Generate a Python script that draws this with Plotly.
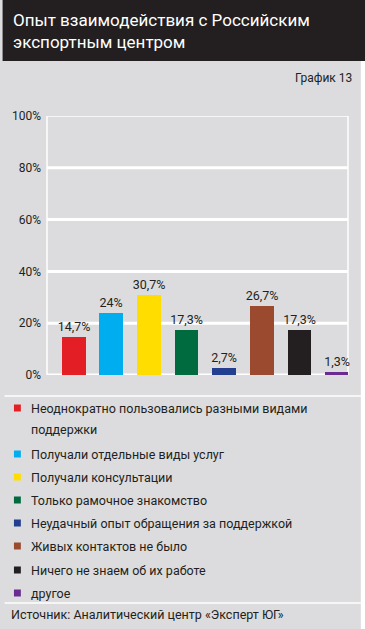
import plotly.graph_objects as go

categories = [
    "Неоднократно пользовались разными видами<br>поддержки",
    "Получали отдельные виды услуг",
    "Получали консультации",
    "Только рамочное знакомство",
    "Неудачный опыт обращения за поддержкой",
    "Живых контактов не было",
    "Ничего не знаем об их работе",
    "другое",
]
values = [14.7, 24, 30.7, 17.3, 2.7, 26.7, 17.3, 1.3]
value_labels = ["14,7%", "24%", "30,7%", "17,3%", "2,7%", "26,7%", "17,3%", "1,3%"]
colors = ["#e31e24", "#00aeef", "#ffdd00", "#006b3f", "#233f8f", "#9b4a2f", "#231f20", "#6a2c91"]
y_ticks = [0, 20, 40, 60, 80, 100]
y_tick_labels = ["0%", "20%", "40%", "60%", "80%", "100%"]
legend_y = [408, 454, 477, 500, 523, 546, 570, 593]

FONT = "Roboto"
DARK = "#231f20"
BG = "#dcdcde"
W, H = 365, 629
L, R, T, B = 43, 17, 116, 254

fig = go.Figure()
fig.add_trace(go.Bar(
    x=list(range(len(values))), y=values,
    marker=dict(color=colors, line=dict(width=0)),
    width=0.63,
    text=value_labels, textposition="outside", cliponaxis=False, constraintext="none",
    textfont=dict(family=FONT, size=12.5, color=DARK),
    showlegend=False, hoverinfo="skip",
))

def px_to_paper_x(px):
    return (px - L) / (W - L - R)

def px_to_paper_y(py):
    return (H - B - py) / (H - T - B)

shapes = []
shapes.append(dict(type="rect", xref="paper", yref="paper",
                   x0=px_to_paper_x(-2), x1=px_to_paper_x(367), y0=px_to_paper_y(61), y1=px_to_paper_y(-2),
                   fillcolor=DARK, line=dict(width=0), layer="below"))
for v in y_ticks:
    if v == 100:
        continue
    shapes.append(dict(type="line", xref="paper", yref="y", x0=0, x1=1, y0=v, y1=v,
                       line=dict(color="white", width=3), layer="below"))
shapes.append(dict(type="line", xref="paper", yref="y", x0=0, x1=1, y0=100, y1=100,
                   line=dict(color="white", width=1.5), layer="below"))
shapes.append(dict(type="line", xref="paper", yref="y", x0=0, x1=0, y0=0, y1=100,
                   line=dict(color="white", width=1.5), layer="below"))
shapes.append(dict(type="line", xref="paper", yref="y", x0=1, x1=1, y0=0, y1=100,
                   line=dict(color="white", width=1.5), layer="below"))
for py in [396, 603]:
    shapes.append(dict(type="line", xref="paper", yref="paper",
                       x0=px_to_paper_x(0), x1=px_to_paper_x(361), y0=px_to_paper_y(py), y1=px_to_paper_y(py),
                       line=dict(color="white", width=1.5)))
shapes.append(dict(type="rect", xref="paper", yref="paper",
                   x0=px_to_paper_x(361), x1=px_to_paper_x(367), y0=px_to_paper_y(631), y1=px_to_paper_y(61),
                   fillcolor="white", line=dict(width=0)))

annotations = []
for c, lab, py in zip(colors, categories, legend_y):
    shapes.append(dict(type="rect", xref="paper", yref="paper",
                       x0=px_to_paper_x(9.5), x1=px_to_paper_x(16.5), y0=px_to_paper_y(py + 3.5), y1=px_to_paper_y(py - 3.5),
                       fillcolor=c, line=dict(width=0)))
    for i, line in enumerate(lab.split("<br>")):
        annotations.append(dict(xref="paper", yref="paper", x=px_to_paper_x(25), y=px_to_paper_y(py + i * 21.5),
                                text=line, showarrow=False, xanchor="left", yanchor="middle", align="left",
                                font=dict(family=FONT, size=12.5, color=DARK)))

annotations.append(dict(xref="paper", yref="paper", x=px_to_paper_x(7), y=px_to_paper_y(31),
                        text="Опыт взаимодействия с Российским<br>экспортным центром", showarrow=False,
                        xanchor="left", yanchor="middle", align="left",
                        font=dict(family=FONT, size=17, color="white")))
annotations.append(dict(xref="paper", yref="paper", x=px_to_paper_x(354), y=px_to_paper_y(78),
                        text="График 13", showarrow=False, xanchor="right", yanchor="middle",
                        font=dict(family=FONT, size=12, color=DARK)))
annotations.append(dict(xref="paper", yref="paper", x=px_to_paper_x(5), y=px_to_paper_y(614),
                        text="Источник: Аналитический центр «Эксперт ЮГ»", showarrow=False,
                        xanchor="left", yanchor="middle",
                        font=dict(family=FONT, size=12.5, color=DARK)))

fig.update_layout(
    width=W, height=H,
    margin=dict(l=L, r=R, t=T, b=B, pad=0),
    paper_bgcolor=BG, plot_bgcolor=BG,
    font=dict(family=FONT, color=DARK),
    shapes=shapes, annotations=annotations,
    xaxis=dict(range=[-0.708, 7.288], showticklabels=False, showgrid=False, zeroline=False,
               showline=False, ticks="", fixedrange=True),
    yaxis=dict(range=[0, 100], tickvals=y_ticks, ticktext=y_tick_labels, showgrid=False,
               zeroline=False, showline=False, ticks="", ticklabelstandoff=5,
               tickfont=dict(family=FONT, size=12, color=DARK), fixedrange=True),
    bargap=0,
)

post = "document.body.style.margin='0';document.body.style.padding='0';document.body.style.overflow='hidden';"
fig.write_html("out.html", config={"displayModeBar": False}, post_script=post)
